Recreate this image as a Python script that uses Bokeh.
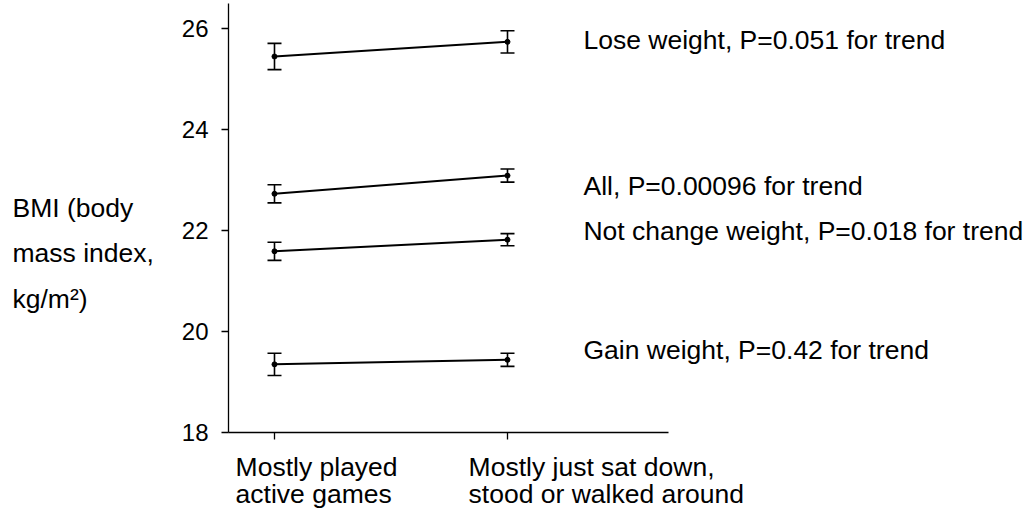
from bokeh.plotting import figure
from bokeh.models import ColumnDataSource, Whisker, TeeHead, FixedTicker, Range1d
from bokeh.layouts import row, column
from bokeh.core.properties import value
from bokeh.embed import file_html
from bokeh.resources import INLINE

# ---- data ----
cat_x = [1, 2]
cat_line1 = ["Mostly played", "Mostly just sat down,"]
cat_line2 = ["active games", "stood or walked around"]
groups = ["Lose weight", "All", "Not change weight", "Gain weight"]
p_trend = ["0.051", "0.00096", "0.018", "0.42"]
bmi_lose = [25.45, 25.74]
se_lose = [0.26, 0.22]
bmi_all = [22.73, 23.09]
se_all = [0.18, 0.13]
bmi_nochange = [21.59, 21.82]
se_nochange = [0.18, 0.12]
bmi_gain = [19.35, 19.44]
se_gain = [0.22, 0.13]
y_ticks = [18, 20, 22, 24, 26]
y_title = ["BMI (body", "mass index,", "kg/m\u00b2)"]

series = [bmi_lose, bmi_all, bmi_nochange, bmi_gain]
errors = [se_lose, se_all, se_nochange, se_gain]

# ---- layout positions (data units) ----
label_x = 2.326
label_y = [25.77, 22.89, 21.99, 19.63]
ytitle_x = -0.1245
ytitle_y = [22.458, 21.566, 20.655]
xlab_dx = -0.167
xlab_y = [17.307, 16.791]

FONT = "Liberation Sans"
FS = "26.5px"

x_rng = Range1d(0.8026, 4.2446)
y_rng = Range1d(18, 26.5)


def clean(fig):
    fig.outline_line_color = None
    fig.background_fill_color = "white"
    fig.border_fill_color = "white"
    fig.grid.visible = False


# ---- main plot ----
p = figure(width=865, height=452, output_backend="svg", toolbar_location=None,
           x_range=x_rng, y_range=y_rng,
           min_border_left=63, min_border_right=0, min_border_top=3, min_border_bottom=20)
clean(p)

ya = p.yaxis[0]
ya.ticker = FixedTicker(ticks=y_ticks)
ya.minor_tick_line_color = None
ya.major_tick_in = 0
ya.major_tick_out = 7
ya.major_tick_line_width = 1.3
ya.axis_line_width = 1.3
ya.major_label_text_font = FONT
ya.major_label_text_font_size = "24px"
ya.major_label_text_color = "black"
ya.major_label_standoff = 13

xa = p.xaxis[0]
xa.ticker = FixedTicker(ticks=cat_x)
xa.minor_tick_line_color = None
xa.major_tick_in = 0
xa.major_tick_out = 7
xa.major_tick_line_width = 1.3
xa.axis_line_width = 1.3
xa.bounds = (0.8026, 2.691)
xa.major_label_text_font_size = "0px"
xa.major_label_standoff = 0
xa.major_label_overrides = {1: " ", 2: " "}

for vals, errs in zip(series, errors):
    src = ColumnDataSource(dict(x=cat_x, y=vals,
                                lower=[v - e for v, e in zip(vals, errs)],
                                upper=[v + e for v, e in zip(vals, errs)]))
    p.line("x", "y", source=src, line_color="black", line_width=2)
    p.scatter("x", "y", source=src, size=5, color="black")
    p.add_layout(Whisker(base="x", lower="lower", upper="upper", source=src,
                         line_color="black", line_width=1.6,
                         upper_head=TeeHead(size=14, line_color="black", line_width=1.6),
                         lower_head=TeeHead(size=14, line_color="black", line_width=1.6)))

lab_src = ColumnDataSource(dict(
    x=[label_x] * len(groups), y=label_y,
    text=[f"{g}, P={pv} for trend" for g, pv in zip(groups, p_trend)]))
p.text("x", "y", text="text", source=lab_src, text_font=value(FONT),
       text_font_size=value(FS), text_color="black",
       text_baseline="middle", text_align="left")

# ---- y title panel ----
yt = figure(width=165, height=452, output_backend="svg", toolbar_location=None,
            x_range=Range1d(-0.176, 0.532), y_range=y_rng,
            x_axis_location=None, y_axis_location=None,
            min_border_left=0, min_border_right=0, min_border_top=3, min_border_bottom=20)
clean(yt)
yt.text(x=[ytitle_x] * len(y_title), y=ytitle_y, text=y_title, text_font=value(FONT),
        text_font_size=value(FS), text_color="black",
        text_baseline="middle", text_align="left")

# ---- x category labels panel ----
xl = figure(width=1030, height=63, output_backend="svg", toolbar_location=None,
            x_range=x_rng, y_range=Range1d(16.355, 17.604),
            x_axis_location=None, y_axis_location=None,
            min_border_left=228, min_border_right=0, min_border_top=0, min_border_bottom=0)
clean(xl)
xl.text(x=[c + xlab_dx for c in cat_x], y=[xlab_y[0]] * 2, text=cat_line1,
        text_font=value(FONT), text_font_size=value(FS), text_color="black",
        text_baseline="middle", text_align="left")
xl.text(x=[c + xlab_dx for c in cat_x], y=[xlab_y[1]] * 2, text=cat_line2,
        text_font=value(FONT), text_font_size=value(FS), text_color="black",
        text_baseline="middle", text_align="left")

layout = column(row(yt, p), xl)
open("out.html", "w").write(file_html(layout, INLINE))
